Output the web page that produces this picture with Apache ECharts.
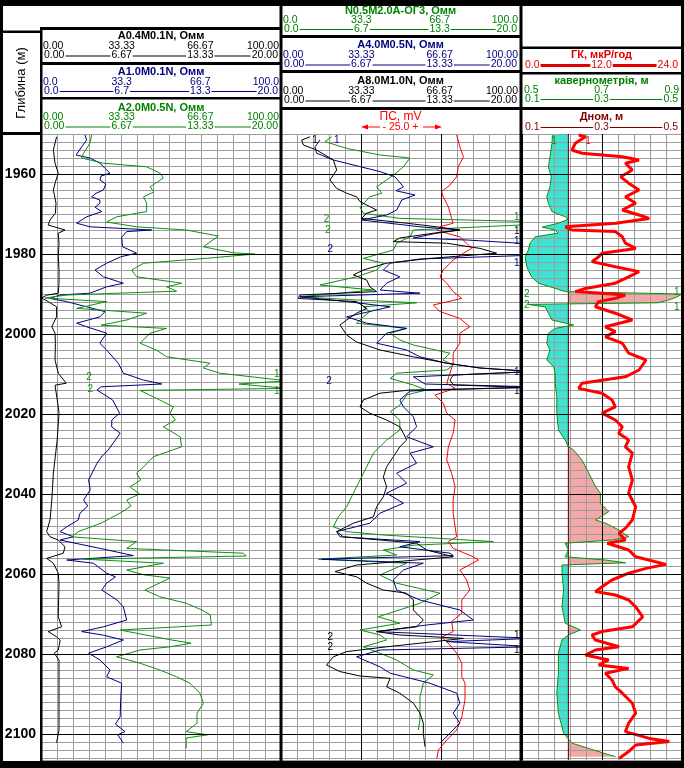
<!DOCTYPE html>
<html>
<head>
<meta charset="utf-8">
<title>Каротажна діаграма</title>
<script src="https://cdn.jsdelivr.net/npm/echarts@6/dist/echarts.min.js"></script>
<style>
  html, body { margin: 0; padding: 0; background: #fff; }
  #chart { width: 684px; height: 768px; }
</style>
</head>
<body>
<div id="chart"></div>
<script>
// depth range of the plot (m) and the labelled depth lines
const depthMin = 1950;
const depthMax = 2106.5;
const depthMajor = [1960, 1980, 2000, 2020, 2040, 2060, 2080, 2100];

// nominal bit diameter, m
const bitSize = 0.2159;

// curves as [depth, value]
// track 1, Ohm-m (0..20)
const a04m01n = [[1950.7,1.3],[1954,1.03],[1957.3,1.17],[1959.8,1.44],[1962,1.2],[1964,1.03],[1967.3,1.25],[1969.8,1.2],[1971.5,0.75],[1972.75,0.6],[1974,2.0],[1974.8,1.44],[1977.3,1.5],[1980.5,1.44],[1984,1.5],[1987.3,1.5],[1989.8,1.44],[1990.3,0.47],[1991,0.05],[1991.9,0.6],[1993.2,1.3],[1995.7,1.3],[1998.2,0.9],[1999.8,1.17],[2002.3,1.2],[2006.5,1.17],[2009.8,1.44],[2012.3,2.1],[2012.8,1.17],[2018.2,1.44],[2019.8,1.5],[2026.5,1.35],[2034.8,1.03],[2041.5,0.9],[2046.5,0.75],[2049.4,0.47],[2050.7,0.75],[2051.5,1.44],[2053.2,2.0],[2054.8,1.86],[2056.1,0.47],[2057.3,1.03],[2059.8,1.44],[2062.3,1.5],[2070.7,1.44],[2073.2,1.72],[2074.4,0.6],[2075.7,1.3],[2076.5,1.6],[2079,1.44],[2079.8,1.1],[2081.5,1.5],[2087.3,1.5],[2094,1.5],[2099,1.5],[2102.2,1.3]];
const a10m01n = [[1950.25,3.67],[1951.5,3.8],[1953.2,3.39],[1955.25,2.92],[1956,4.08],[1957.3,4.92],[1958.5,5.3],[1959.8,5.75],[1960.5,5.0],[1961.5,4.92],[1962.5,5.4],[1964,5.2],[1964.8,4.6],[1965.7,4.22],[1966.5,4.9],[1967.3,4.92],[1968.3,4.5],[1969.4,5.06],[1970.7,3.8],[1972.3,2.97],[1973.2,4.08],[1974,9.22],[1974.4,7.14],[1975.8,6.72],[1978.2,6.8],[1979.8,7.97],[1980.7,6.64],[1982.3,5.47],[1984,4.5],[1985.7,5.2],[1987.3,6.86],[1988.2,5.47],[1989.8,4.08],[1990.25,1.58],[1991.1,0.75],[1991.9,2.14],[1993.2,3.8],[1994.4,5.33],[1995.7,4.92],[1997.3,2.97],[1998.2,3.8],[1999.8,5.47],[2002.3,4.9],[2004,5.47],[2007.3,6.44],[2009.8,6.86],[2011.5,8.53],[2012.5,10.06],[2013.2,5.0],[2014,4.67],[2016.5,5.97],[2019.8,6.55],[2021.5,5.9],[2023.2,5.89],[2024.8,6.6],[2026.5,6.2],[2029,5.6],[2030.5,5.1],[2032.3,4.67],[2034.5,4.3],[2036.5,3.97],[2039,4.1],[2041.5,3.55],[2043,3.9],[2044.8,3.25],[2046.5,3.1],[2048.2,2.14],[2049.4,1.58],[2050.7,2.7],[2051.5,1.58],[2053.6,4.92],[2055.4,7.7],[2056.5,2.14],[2057.3,4.36],[2059.8,5.47],[2060.7,6.2],[2062.3,5.47],[2064,5.06],[2066.5,6.33],[2068.2,6.86],[2071.5,7.14],[2073.2,5.2],[2074.4,3.39],[2075.3,5.2],[2076.5,6.86],[2078.2,5.47],[2079.8,3.97],[2081.5,4.92],[2084,5.75],[2085.7,5.47],[2087.3,6.72],[2091.5,6.64],[2095.7,6.6],[2097.5,6.2],[2099.4,7.0],[2100.2,6.4],[2102.3,6.86]];
const a20m05n = [[1950.25,4.22],[1952.3,4.08],[1954.8,3.55],[1956,3.39],[1957.3,5.2],[1958.2,8.8],[1959.8,9.92],[1961,10.2],[1963.2,9.1],[1964.5,9.4],[1965.7,8.55],[1967.3,8.8],[1969.4,8.8],[1970.7,6.3],[1972,5.47],[1973.2,7.97],[1974,12.1],[1975.5,14.78],[1978.2,13.53],[1979.7,16.03],[1980,17.83],[1981,14.08],[1982.3,8.55],[1984,7.55],[1985.7,7.97],[1987.3,11.72],[1988.2,10.47],[1989.3,11.3],[1990.25,2.14],[1991,0.33],[1991.9,5.47],[1993.6,2.97],[1994.8,8.8],[1996.5,7.14],[1997.8,5.0],[1998.6,10.47],[1999.8,9.1],[2002.3,8.25],[2004,9.6],[2005.7,10.47],[2007.3,14.08],[2008.5,13.53],[2009.8,14.9],[2011.7,20.5],[2012.5,16.5],[2013.6,20.5],[2014.1,8.25],[2016.5,9.9],[2018.2,11.03],[2019.8,10.75],[2021.5,11.2],[2023.2,10.2],[2025.7,11.6],[2028.2,11.72],[2030.7,9.36],[2033.2,8.55],[2034.8,7.97],[2036.5,8.3],[2038.2,7.42],[2040,8.2],[2041.5,7.14],[2043,7.5],[2044.8,6.58],[2047.3,5.0],[2049.4,3.11],[2050.7,2.55],[2051.9,7.97],[2053.6,7.14],[2054.8,16.86],[2055.5,17.1],[2056.3,3.55],[2057.3,10.2],[2059,7.14],[2060.2,8.55],[2061,10.75],[2064,8.66],[2065.7,9.9],[2067.3,12.1],[2069,13.4],[2070.2,14.1],[2072.75,14.2],[2074,6.58],[2075.3,8.8],[2076.5,10.9],[2077.3,12.5],[2078.2,10.75],[2079,8.25],[2080.7,6.3],[2082.3,8.25],[2084,9.9],[2085.7,11.3],[2087.3,12.4],[2089.8,13.25],[2092.3,13.53],[2094.8,13.0],[2097.3,13.0],[2099.4,12.1],[2100.2,13.9],[2101,12.1],[2103.6,12.1]];

// track 2, Ohm-m (0..20) and SP, mV
const n05m20a = [[1950.7,4.22],[1951.9,3.67],[1953.6,5.47],[1955.25,8.25],[1956,10.75],[1958.2,10.2],[1960,9.5],[1961.5,8.8],[1963.2,7.97],[1964.8,8.4],[1965.7,7.4],[1967,7.0],[1968.2,6.58],[1969.8,6.86],[1971.1,9.9],[1971.9,21],[1972.6,21],[1974,11.03],[1975.7,10.75],[1977.3,9.64],[1979,9.36],[1981.1,6.86],[1982.3,8.53],[1984,7.97],[1985.7,6.3],[1987.75,3.25],[1989,7.7],[1990.7,1.58],[1991.5,6.3],[1992.2,11.3],[1993.2,6.86],[1994.4,7.4],[1995.7,6.86],[1997.3,6.3],[1998.6,10.47],[1999.8,9.1],[2001.5,9.9],[2002.75,11.03],[2004.8,14.08],[2006.5,13.5],[2007.75,14.36],[2009,13.8],[2009.8,9.64],[2011.1,9.1],[2012.75,11.03],[2014,12.1],[2015.25,10.47],[2017.8,9.9],[2019.4,9.1],[2021.5,9.9],[2024,9.9],[2026.5,8.8],[2029.8,7.7],[2033.2,7.14],[2036.5,6.58],[2039.8,6.03],[2043.2,5.47],[2045.7,4.78],[2048.2,4.36],[2049.4,5.47],[2050.25,8.53],[2051.9,17.7],[2052.8,11.03],[2054,8.53],[2055.25,9.64],[2056.3,3.11],[2057.3,10.47],[2060.25,8.25],[2062.3,9.64],[2064.8,13.25],[2067.3,11.6],[2070.7,8.1],[2072.3,9.9],[2074,6.58],[2075.25,8.25],[2076.5,8.8],[2078.2,6.86],[2079.8,8.25],[2081.5,9.64],[2084,11.03],[2085.25,12.7],[2087.3,11.86],[2090.7,11.58],[2094,11.58],[2096.5,11.58],[2099,11.44]];
const a40m05n = [[1951.5,3.25],[1953.2,2.83],[1954.8,2.97],[1956.5,4.36],[1959.4,8.25],[1960.7,9.5],[1963.2,10.2],[1964.2,9.6],[1965.25,11.17],[1966.5,10.06],[1969,9.64],[1970.25,8.8],[1971.5,6.72],[1973.2,11.58],[1974,14.9],[1974.8,12.97],[1976,11.03],[1976.5,15.5],[1977.5,21],[1980.3,21],[1981.25,11.58],[1982.3,9.1],[1984,8.53],[1985.7,9.9],[1987.3,8.8],[1989,8.25],[1989.8,11.58],[1990.7,1.58],[1991.9,5.47],[1993.2,9.1],[1995.7,5.47],[1997.3,7.14],[1998.6,10.47],[1999.8,8.8],[2002.3,7.97],[2004,10.47],[2005.7,11.58],[2007.3,13.8],[2008.5,16.58],[2009.4,21],[2010.7,11.03],[2012.5,12],[2013.2,21],[2014.25,10.75],[2016.5,9.9],[2018.2,10.2],[2020.7,11.03],[2023.2,11.3],[2025.7,10.47],[2028.2,12.7],[2029.8,10.75],[2032.3,11.3],[2034.8,9.64],[2037.3,10.47],[2039.8,8.8],[2042.3,10.2],[2044.8,8.25],[2047.3,7.4],[2049.4,4.64],[2050.7,4.92],[2051.9,11.58],[2053.2,9.9],[2054.8,14.08],[2055.4,14.36],[2056.3,3.39],[2057.3,11.86],[2059,10.2],[2061.5,9.36],[2064,9.64],[2066.5,11.58],[2069,14.9],[2071.5,16.03],[2072.75,12.14],[2074.4,7.97],[2076.1,21],[2076.9,13.8],[2078.2,21],[2079,8.25],[2080.7,6.3],[2083.2,8.25],[2084.8,9.1],[2087.3,12.4],[2089.8,14.64],[2092.3,14.9],[2094.8,14.36],[2097.3,14.9],[2099.8,14.08],[2102.3,13.25]];
const a80m10n = [[1950.7,2.42],[1951.5,1.72],[1952.75,1.86],[1954,2.97],[1956.5,4.36],[1959,4.64],[1961.5,4.08],[1963.6,4.64],[1964.8,5.47],[1965.7,6.3],[1966.9,6.58],[1969,7.97],[1969.8,7.14],[1971.1,6.72],[1972.3,10.47],[1973.2,12.97],[1974,14.9],[1974.8,12.7],[1976,9.9],[1976.9,9.36],[1977.3,13.8],[1978.6,16.58],[1979.8,17.97],[1981.1,12.4],[1982.3,8.8],[1984,6.86],[1985.25,6.03],[1986.5,7.14],[1988.2,7.4],[1989.4,7.97],[1990.25,1.58],[1991.1,1.44],[1991.9,6.3],[1993.6,7.14],[1994.8,6.3],[1996.5,5.47],[1997.75,4.92],[1999,5.2],[2000.25,5.47],[2002,6.3],[2004,8.25],[2005.7,11.03],[2007.3,13.8],[2008.5,16.58],[2009.4,21],[2010.25,14.36],[2011.5,14.08],[2012.75,14.36],[2013.4,21],[2014,10.75],[2014.8,8.25],[2016.5,6.86],[2018.2,6.58],[2019.8,7.4],[2021.5,8.8],[2023.2,9.9],[2024.8,10.2],[2026.5,10.47],[2028.2,9.9],[2030.7,9.36],[2033.2,8.8],[2035.7,8.53],[2038.2,8.8],[2040.7,8.53],[2043.2,7.97],[2045.7,7.7],[2047.3,6.03],[2049.4,4.64],[2050.7,5.2],[2052.3,11.3],[2054,12.14],[2055.7,14.36],[2057.75,6.3],[2059.4,4.5],[2060.7,6.3],[2062.3,7.14],[2064,8.53],[2064.8,10.47],[2066.5,11.03],[2069,11.03],[2071.5,11.86],[2073.2,11.3],[2074.4,7.97],[2075.25,9.9],[2076.1,15.2],[2077.3,11.58],[2078.2,8.8],[2079.4,5.47],[2080.7,4.36],[2082.75,3.8],[2084.4,4.92],[2085.5,6.58],[2086.1,9.1],[2088.2,8.8],[2089.8,9.9],[2092.3,11.03],[2094.8,11.58],[2097.3,11.86],[2099.8,11.86],[2103.2,12.0]];
const spCurve = [[1950.25,-5.1],[1953.2,-4.1],[1955.7,-3.0],[1958.2,-4.6],[1960.7,-5.1],[1962.75,-7.2],[1964.4,-9.8],[1965.7,-9.3],[1968.2,-7.7],[1971.1,-6.7],[1972.3,-6.2],[1973.2,-10.3],[1974,-11.3],[1974.8,-8.2],[1975.7,-4.1],[1977.3,-2.0],[1978.6,-0.4],[1979.8,-3.0],[1981.5,-6.2],[1984,-9.3],[1985.7,-10.3],[1987.3,-8.2],[1989.4,-6.2],[1991.1,-3.5],[1992.75,-12.4],[1994.4,-10.3],[1996.1,-4.1],[1998.2,-1.0],[1999.8,-4.1],[2002.3,-4.1],[2004.8,-6.2],[2007.3,-6.2],[2009.8,-7.2],[2012.3,-8.2],[2013.6,-5.6],[2015.25,-11.9],[2017.3,-9.3],[2019.8,-8.2],[2021.5,-5.6],[2024.8,-6.2],[2028.2,-7.7],[2031.5,-8.2],[2034.8,-6.7],[2038.2,-5.6],[2041.5,-6.2],[2044.8,-6.2],[2048.2,-5.6],[2050.7,-5.1],[2051.9,-7.7],[2053.6,-6.2],[2055.7,0.1],[2056.5,1.7],[2059,-4.1],[2061.5,-2.0],[2064,-1.0],[2066.5,-3.5],[2069.8,-3.5],[2071.9,-6.7],[2074.4,-6.2],[2075.8,-9.8],[2077.75,-7.2],[2079.8,-5.1],[2082.3,-3.5],[2085.7,-3.5],[2087.3,-2.5],[2091.5,-2.5],[2095.7,-3.5],[2099,-5.1],[2101.5,-8.2],[2104,-10.8],[2106.1,-11.3]];

// track 3: gamma ray (мкР/год) and caliper (m)
const gammaRay = [[1950.25,8.5],[1950.7,9.5],[1952.3,8.0],[1954,7.5],[1954.8,9.0],[1955.7,15.05],[1956.5,17.55],[1957.3,15.5],[1959,16.55],[1960.7,14.8],[1962.3,16.0],[1964,17.55],[1965.7,15.5],[1967.3,17.05],[1969,15.05],[1970.25,17.55],[1971.1,19.06],[1972.3,14.04],[1973.2,6.5],[1974,7.5],[1974.4,14.0],[1975.7,15.05],[1977.3,15.5],[1978.6,17.05],[1979.8,12.0],[1980.7,11.5],[1981.9,10.5],[1983.2,14.0],[1984.4,17.55],[1985.7,16.0],[1987.3,14.0],[1988.6,9.5],[1989.4,8.0],[1990.25,15.5],[1991.1,14.0],[1991.9,11.5],[1993.2,11.0],[1994.8,14.0],[1996.5,16.55],[1998.2,12.5],[1999.4,14.0],[2000.7,12.5],[2002.3,15.05],[2004.8,16.0],[2006.5,18.6],[2009,17.55],[2010.7,15.5],[2012.3,9.0],[2013.6,8.5],[2014.8,12.0],[2016.5,13.5],[2018.2,14.0],[2019.8,12.0],[2021.5,14.0],[2023.2,15.05],[2024.8,14.5],[2026.5,16.0],[2028.2,15.5],[2029.8,16.55],[2033.2,16.0],[2036.5,16.55],[2039.8,16.0],[2043.2,17.05],[2046.5,16.55],[2048.6,15.5],[2049.8,14.55],[2051.5,15.5],[2052.3,12.8],[2054,16.0],[2055.7,17.05],[2057.6,21.6],[2058.6,18.6],[2059.8,16.0],[2061.5,13.5],[2063.2,12.0],[2064.4,11.0],[2065.25,14.0],[2066.5,16.0],[2068.2,17.05],[2070.7,18.1],[2073.2,16.55],[2074.4,12.0],[2075.25,10.5],[2076.5,11.0],[2078.2,14.55],[2079,11.0],[2080.25,9.5],[2081.5,13.0],[2082.75,11.5],[2083.6,16.0],[2084.8,12.5],[2086.5,13.5],[2088.2,14.0],[2089.8,15.05],[2092.3,16.55],[2094.8,17.05],[2097.3,16.0],[2099.4,15.5],[2101.1,19.1],[2101.9,22.1],[2102.75,17.05],[2104.4,16.0],[2106.1,14.55]];
const caliper = [[1950.25,0.176],[1952.3,0.175],[1955.7,0.170],[1958.2,0.166],[1960.7,0.173],[1963.2,0.170],[1965.7,0.162],[1967.3,0.166],[1969.4,0.175],[1970.7,0.208],[1971.3,0.216],[1972.3,0.191],[1973.3,0.150],[1974,0.183],[1974.8,0.19],[1975.7,0.133],[1977.3,0.120],[1979,0.116],[1980.7,0.108],[1983.2,0.112],[1985.7,0.124],[1987.3,0.141],[1988.6,0.183],[1989.4,0.208],[1990.0,0.50],[1990.6,0.49],[1991.4,0.47],[1992.2,0.44],[1992.6,0.115],[1993.2,0.158],[1994.8,0.166],[1996.5,0.175],[1997.75,0.229],[1998.6,0.183],[1999.8,0.166],[2002.3,0.162],[2004,0.170],[2006.5,0.162],[2008.2,0.179],[2009.8,0.183],[2012.3,0.183],[2015.7,0.187],[2019.8,0.187],[2024,0.191],[2026.5,0.208],[2028.2,0.216],[2029,0.229],[2031.5,0.250],[2034.8,0.267],[2038.2,0.284],[2039.8,0.296],[2042.3,0.296],[2044.4,0.317],[2046.5,0.284],[2047.3,0.309],[2049,0.342],[2050.7,0.367],[2051.5,0.326],[2052.3,0.208],[2054,0.216],[2055.7,0.208],[2056.5,0.309],[2057.2,0.359],[2057.75,0.200],[2059.8,0.2],[2064,0.204],[2068.2,0.2],[2072.3,0.208],[2074,0.246],[2075.25,0.216],[2076.5,0.2],[2079.8,0.191],[2084.8,0.191],[2089.8,0.187],[2094.8,0.191],[2099.8,0.204],[2102.3,0.225],[2104.4,0.292],[2105.7,0.334]];

// wrap / curve number tags as [value, depth, tag]
const tagsT1Green = [[19.64,2010.1,'1'],[19.64,2014.2,'1'],[4.0,2010.9,'2'],[4.1,2013.75,'2']];
const tagsT2Green = [[19.64,1970.8,'1'],[3.8,1971.3,'2'],[3.9,1974.0,'2']];
const tagsT2Black = [[2.83,1951.5,'1'],[19.64,1974.4,'1'],[19.64,2014.4,'1'],[19.64,2075.25,'1'],[19.64,2079,'1'],[4.1,2075.8,'2'],[4.1,2078.3,'2']];
const tagsT2Navy = [[4.64,1951.5,'1'],[19.64,1976.9,'1'],[19.64,1982.3,'1'],[4.1,1978.75,'2'],[19.64,2009.6,'1'],[4.0,2011.7,'2']];
const tagsCaliper = [[0.18,1951.9,'1'],[0.112,1990,'2'],[0.112,1992.75,'2'],[0.487,1989.6,'1'],[0.487,1993.3,'1']];
const tagsGamma = [[9.9,1951.9,'1']];

// header scale labels
const resScale4 = ['0.00', '33.33', '66.67', '100.00'];
const resScale20 = ['0.00', '6.67', '13.33', '20.00'];
const resScale4s = ['0.0', '33.3', '66.7', '100.0'];
const resScale20s = ['0.0', '6.7', '13.3', '20.0'];
const gammaScale = ['0.0', '12.0', '24.0'];
const calScaleA = ['0.5', '0.7', '0.9'];
const calScaleB = ['0.1', '0.3', '0.5'];

const FONT = '"Liberation Sans", Arial, sans-serif';
const NAVY = '#000080';
const GREEN = '#008000';
const CURVE_GREEN = '#0f8f0f';
const GRID_GRAY = '#9c9c9c';

const chart = echarts.init(document.getElementById('chart'));

function tags(list, color) {
  return {
    symbol: 'circle', symbolSize: 1, silent: true, animation: false,
    itemStyle: { color: 'rgba(0,0,0,0)' },
    label: { show: true, position: 'inside', color: color, fontSize: 10, fontFamily: FONT, formatter: '{b}' },
    data: list.map(t => ({ coord: [t[0], t[1]], name: t[2] }))
  };
}

function majorLines() {
  return {
    symbol: ['none', 'none'], silent: true, animation: false,
    label: { show: false },
    lineStyle: { color: '#000', width: 1, type: 'solid' },
    data: depthMajor.map(d => ({ yAxis: d }))
  };
}

function curve(name, data, xIdx, yIdx, color, width, extra) {
  return Object.assign({
    name: name, type: 'line', xAxisIndex: xIdx, yAxisIndex: yIdx,
    data: data.map(p => [p[1], p[0]]),
    showSymbol: false, symbol: 'none', silent: true, animation: false,
    lineStyle: { color: color, width: width },
    itemStyle: { color: color },
    emphasis: { disabled: true },
    z: 3
  }, extra || {});
}

function xAx(grid, min, max, interval, lineColor, z) {
  return {
    type: 'value', gridIndex: grid, min: min, max: max, interval: interval,
    axisLine: { show: false }, axisTick: { show: false }, axisLabel: { show: false },
    splitLine: lineColor ? { show: true, lineStyle: { color: lineColor, width: 1 } } : { show: false },
    z: z || 1.5
  };
}

function yAx(grid) {
  return {
    type: 'value', gridIndex: grid, inverse: true, min: depthMin, max: depthMax, interval: 2,
    axisLine: { show: false }, axisTick: { show: false },
    axisLabel: grid === 0 ? {
      show: true, margin: 5, color: '#000', fontSize: 14, fontWeight: 'bold', fontFamily: FONT,
      formatter: v => (v % 20 === 0 ? String(v) : '')
    } : { show: false },
    splitLine: { show: true, lineStyle: { color: GRID_GRAY, width: 1 } },
    z: 1.5
  };
}

// ---------- header drawing ----------
function bar(x, y, w, h) {
  return { type: 'rect', shape: { x: x, y: y, width: w, height: h }, style: { fill: '#000' }, z: 120, silent: true };
}
function txt(x, y, s, color, o) {
  o = o || {};
  const style = {
    text: s, fill: color,
    font: (o.weight || 'normal') + ' ' + (o.size || 10.5) + 'px ' + FONT,
    align: o.align || 'center', verticalAlign: 'middle'
  };
  if (o.bg) { style.backgroundColor = o.bg; style.padding = [0, 1]; style.lineHeight = 9; }
  return { type: 'text', x: x, y: y, rotation: o.rot || 0, z: o.z || 110, silent: true, style: style };
}
function title(cx, y, s, color) {
  return txt(cx, y, s, color, { weight: 'bold', size: 11 });
}
function scaleRow(x0, x1, y, labels, color, lineWidth) {
  const els = [];
  const a = x0 + 2, b = x1 - 2;
  if (lineWidth) {
    els.push({ type: 'line', shape: { x1: a, y1: y + 0.5, x2: b, y2: y + 0.5 },
      style: { stroke: color, lineWidth: lineWidth }, z: 105, silent: true });
  }
  const n = labels.length;
  labels.forEach((s, i) => {
    const x = a + (b - a) * i / (n - 1);
    const align = i === 0 ? 'left' : (i === n - 1 ? 'right' : 'center');
    els.push(txt(x, y, s, color, { align: align, bg: lineWidth ? '#fff' : null }));
  });
  return els;
}

const T1 = [41, 281], T2 = [281, 520], T3 = [522, 681];
const c1 = (T1[0] + T1[1]) / 2, c2 = (T2[0] + T2[1]) / 2, c3 = 601.5;

const header = [].concat(
  // depth column
  [txt(21, 83, 'Глибина (м)', '#000', { size: 13, rot: Math.PI / 2 })],
  // track 1
  [title(c1, 36, 'A0.4M0.1N, Омм', '#000')],
  scaleRow(T1[0], T1[1], 46.5, resScale4, '#000', 0),
  scaleRow(T1[0], T1[1], 55.5, resScale20, '#000', 1),
  [title(c1, 72, 'A1.0M0.1N, Омм', NAVY)],
  scaleRow(T1[0], T1[1], 82, resScale4s, NAVY, 0),
  scaleRow(T1[0], T1[1], 91, resScale20s, NAVY, 1),
  [title(c1, 107.5, 'A2.0M0.5N, Омм', GREEN)],
  scaleRow(T1[0], T1[1], 117.5, resScale4, GREEN, 0),
  scaleRow(T1[0], T1[1], 126.5, resScale20, GREEN, 1),
  // track 2
  [title(c2, 10.5, 'N0.5M2.0A-OГ3, Омм', GREEN)],
  scaleRow(T2[0], T2[1], 20, resScale4s, GREEN, 0),
  scaleRow(T2[0], T2[1], 29, resScale20s, GREEN, 1),
  [title(c2, 45, 'A4.0M0.5N, Омм', NAVY)],
  scaleRow(T2[0], T2[1], 55, resScale4, NAVY, 0),
  scaleRow(T2[0], T2[1], 64.5, resScale20, NAVY, 1),
  [title(c2, 81, 'A8.0M1.0N, Омм', '#000')],
  scaleRow(T2[0], T2[1], 91, resScale4, '#000', 0),
  scaleRow(T2[0], T2[1], 100.5, resScale20, '#000', 1),
  [txt(c2, 117, 'ПС, mV', '#ff0000', { size: 12 }),
   txt(c2, 127, '- 25.0 +', '#ff0000', { size: 10.5 }),
   { type: 'line', shape: { x1: 365, y1: 127, x2: 380, y2: 127 }, style: { stroke: '#ff0000', lineWidth: 1 }, z: 105 },
   { type: 'polygon', shape: { points: [[361, 127], [368, 124.5], [368, 129.5]] }, style: { fill: '#ff0000' }, z: 105 },
   { type: 'line', shape: { x1: 423, y1: 127, x2: 437, y2: 127 }, style: { stroke: '#ff0000', lineWidth: 1 }, z: 105 },
   { type: 'polygon', shape: { points: [[442, 127], [435, 124.5], [435, 129.5]] }, style: { fill: '#ff0000' }, z: 105 }],
  // track 3
  [title(c3, 55, 'ГК, мкР/год', '#e00000')],
  scaleRow(T3[0], T3[1], 65, gammaScale, '#e00000', 3),
  [title(c3, 81, 'кавернометрія, м', GREEN)],
  scaleRow(T3[0], T3[1], 90, calScaleA, GREEN, 0),
  scaleRow(T3[0], T3[1], 99, calScaleB, GREEN, 1),
  [title(c3, 117, 'Дном, м', '#800000')],
  scaleRow(T3[0], T3[1], 127, calScaleB, '#800000', 1),
  // frame
  [bar(0, 0, 684, 6), bar(0, 761, 684, 7), bar(0, 0, 3, 768), bar(681, 0, 3, 768),
   bar(40, 27, 2.5, 734), bar(279.5, 0, 3, 761), bar(519.5, 0, 3, 761),
   bar(3, 30.5, 37, 2.5), bar(3, 132, 37, 3),
   bar(40, 27, 241, 3), bar(40, 62, 241, 3), bar(40, 97, 241, 2.5),
   bar(281, 35, 240, 3), bar(281, 70, 240, 3), bar(281, 107, 240, 3),
   bar(521, 46.5, 161, 2.5), bar(521, 72, 161, 2.5), bar(521, 107, 161, 3)]
);

// caliper vs bit size fill (cyan = under gauge, pink = over gauge)
function caliperFill(params, api) {
  if (params.dataIndex !== 0) return null;
  const pts = [];
  for (let i = 0; i < caliper.length; i++) {
    const d = caliper[i][0], c = caliper[i][1];
    pts.push([c, d]);
    if (i < caliper.length - 1) {
      const d2 = caliper[i + 1][0], c2v = caliper[i + 1][1];
      if ((c - bitSize) * (c2v - bitSize) < 0) {
        const t = (bitSize - c) / (c2v - c);
        pts.push([bitSize, d + t * (d2 - d)]);
      }
    }
  }
  const top = pts[0][1], bottom = pts[pts.length - 1][1];
  const under = pts.map(p => api.coord([Math.min(p[0], bitSize), p[1]]))
    .concat([api.coord([bitSize, bottom]), api.coord([bitSize, top])]);
  const over = pts.map(p => api.coord([Math.max(p[0], bitSize), p[1]]))
    .concat([api.coord([bitSize, bottom]), api.coord([bitSize, top])]);
  return {
    type: 'group',
    children: [
      { type: 'polygon', shape: { points: under }, style: { fill: '#3fe3d3' } },
      { type: 'polygon', shape: { points: over }, style: { fill: '#f4a7a7' } }
    ]
  };
}

const option = {
  animation: false,
  backgroundColor: '#fff',
  grid: [
    { left: 41, top: 134, width: 240, height: 626 },
    { left: 281, top: 134, width: 240, height: 626 },
    { left: 522, top: 134, width: 160, height: 626 }
  ],
  xAxis: [
    xAx(0, 0, 20, 20 / 15, GRID_GRAY),      // 0 track 1 resistivity
    xAx(1, 0, 20, 20 / 15, GRID_GRAY),      // 1 track 2 resistivity
    xAx(1, 0, 20, 20 / 3, '#000', 1.6),     // 2 track 2 bold verticals
    xAx(1, -60, 15, null, null),            // 3 SP
    xAx(2, 0, 24, 2.4, GRID_GRAY),          // 4 gamma ray
    xAx(2, 0, 24, 12, '#000', 1.6),         // 5 track 3 bold vertical
    xAx(2, 0.1, 0.5, null, null)            // 6 caliper / bit size
  ],
  yAxis: [yAx(0), yAx(1), yAx(2)],
  graphic: { elements: header },
  series: [
    curve('A0.4M0.1N', a04m01n, 0, 0, '#000', 1, { markLine: majorLines() }),
    curve('A1.0M0.1N', a10m01n, 0, 0, NAVY, 1),
    curve('A2.0M0.5N', a20m05n, 0, 0, CURVE_GREEN, 1, { markPoint: tags(tagsT1Green, CURVE_GREEN) }),
    curve('ПС', spCurve, 3, 1, '#ff0000', 1, { markLine: majorLines() }),
    curve('N0.5M2.0A-OГ3', n05m20a, 1, 1, CURVE_GREEN, 1, { markPoint: tags(tagsT2Green, CURVE_GREEN) }),
    curve('A4.0M0.5N', a40m05n, 1, 1, NAVY, 1, { markPoint: tags(tagsT2Navy, NAVY) }),
    curve('A8.0M1.0N', a80m10n, 1, 1, '#000', 1, { markPoint: tags(tagsT2Black, '#000') }),
    {
      type: 'custom', xAxisIndex: 6, yAxisIndex: 2, z: 1, silent: true, animation: false,
      data: [[bitSize, depthMin]], renderItem: caliperFill
    },
    curve('Дном', [[depthMin, bitSize], [depthMax, bitSize]], 6, 2, '#500000', 1),
    curve('кавернометрія', caliper, 6, 2, CURVE_GREEN, 1, { markPoint: tags(tagsCaliper, CURVE_GREEN) }),
    curve('ГК', gammaRay, 4, 2, '#ff0000', 3, { markLine: majorLines(), markPoint: tags(tagsGamma, '#ff0000') })
  ]
};

chart.setOption(option);
</script>
</body>
</html>
